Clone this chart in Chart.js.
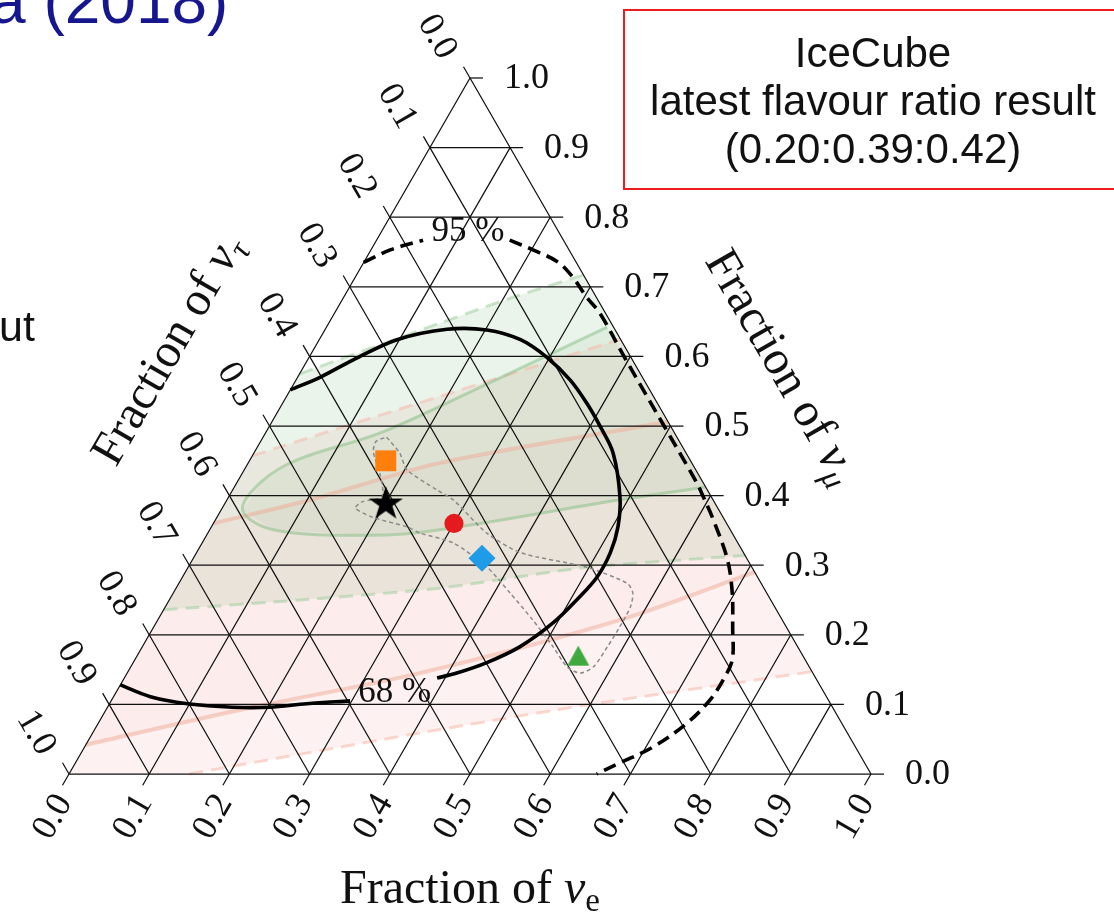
<!DOCTYPE html>
<html>
<head>
<meta charset="utf-8">
<title>Flavour triangle</title>
<script src="https://cdn.jsdelivr.net/npm/chart.js@4.4.1/dist/chart.umd.min.js"></script>
<style>
  html, body { margin: 0; padding: 0; background: #fff; }
  #wrap { position: relative; width: 1114px; height: 918px; overflow: hidden; background: #fff; }
  #c { position: absolute; left: 0; top: 0; width: 1114px; height: 918px; }
  .slide { position: absolute; white-space: nowrap; font-family: "Liberation Sans", Arial, sans-serif; }
  #ref { left: -10px; top: -31px; font-size: 64px; line-height: 64px; color: #16168e; }
  #cut { left: -1px; top: 302px; font-size: 43px; line-height: 48px; color: #111; }
  #box { left: 623px; top: 9px; width: 500px; height: 181px; box-sizing: border-box;
         border: 2px solid #ee1c1c; padding-top: 18px; text-align: center;
         font-size: 42px; line-height: 48px; color: #111; }
</style>
</head>
<body>
<div id="wrap">
  <canvas id="c" width="1114" height="918"></canvas>
  <div class="slide" id="ref">a (2018)</div>
  <div class="slide" id="cut">ut</div>
  <div class="slide" id="box">
    <div>IceCube</div>
    <div>latest flavour ratio result</div>
    <div>(0.20:0.39:0.42)</div>
  </div>
</div>
<script>
// Tick values and labels shared by the three sides of the triangle
const tickValues = [0, 0.1, 0.2, 0.3, 0.4, 0.5, 0.6, 0.7, 0.8, 0.9, 1.0];
const tickLabels = ['0.0', '0.1', '0.2', '0.3', '0.4', '0.5', '0.6', '0.7', '0.8', '0.9', '1.0'];

// All compositions below are [fraction of nu_e, fraction of nu_mu]; nu_tau = 1 - both.

// 95 % contour (dashed), split where its label sits
const cl95Left = [[0.000, 0.735], [0.024, 0.753], [0.058, 0.767]];
const cl95Right = [[0.166, 0.767], [0.202, 0.753], [0.241, 0.736], [0.271, 0.714], [0.303, 0.685],
  [0.331, 0.662], [0.392, 0.600], [0.492, 0.500], [0.572, 0.420], [0.592, 0.398], [0.621, 0.365],
  [0.667, 0.308], [0.697, 0.260], [0.722, 0.211], [0.745, 0.164], [0.748, 0.135], [0.746, 0.106],
  [0.734, 0.073], [0.709, 0.039], [0.679, 0.016], [0.658, 0.000]];

// 68 % contour (solid), split where its label sits
const cl68Upper = [[0.000, 0.552], [0.028, 0.570], [0.057, 0.595], [0.097, 0.624], [0.152, 0.639],
  [0.202, 0.638], [0.251, 0.624], [0.296, 0.599], [0.342, 0.566], [0.379, 0.533], [0.413, 0.499],
  [0.448, 0.461], [0.488, 0.398], [0.507, 0.355], [0.516, 0.318], [0.517, 0.283], [0.508, 0.250],
  [0.495, 0.217], [0.471, 0.183], [0.441, 0.160], [0.411, 0.145], [0.390, 0.138]];
const cl68Lower = [[0.298, 0.105], [0.246, 0.101], [0.202, 0.096], [0.156, 0.096], [0.097, 0.101],
  [0.046, 0.111], [0.000, 0.128]];

const label95 = [0.108, 0.779];
const label68 = [0.348, 0.116];

// Green band (outer dashed limits, inner solid ellipse)
const greenUpper = [[0.000, 0.575], [0.139, 0.648], [0.211, 0.685], [0.283, 0.717]];
const greenLower = [[0.000, 0.236], [0.163, 0.250], [0.329, 0.267], [0.497, 0.297], [0.686, 0.314]];
const greenCoreUpper = [[0.027, 0.379], [0.030, 0.420], [0.060, 0.452], [0.143, 0.490], [0.235, 0.556], [0.350, 0.642]];
const greenCoreLower = [[0.027, 0.379], [0.079, 0.351], [0.207, 0.343], [0.287, 0.351], [0.490, 0.394], [0.587, 0.412]];

// Pink band (outer dashed limits, inner solid limits)
const pinkUpper = [[0.000, 0.457], [0.028, 0.470], [0.266, 0.576], [0.375, 0.625]];
const pinkLower = [[0.150, 0.000], [0.408, 0.059], [0.600, 0.100], [0.853, 0.147]];
const pinkCoreUpper = [[0.000, 0.360], [0.104, 0.394], [0.239, 0.447], [0.494, 0.506]];
const pinkCoreLower = [[0.000, 0.042], [0.167, 0.092], [0.365, 0.145], [0.576, 0.221], [0.710, 0.290]];

// Dotted region around the source points
const dottedRegion = [[0.154, 0.484], [0.182, 0.461], [0.203, 0.437], [0.255, 0.408], [0.282, 0.394],
  [0.348, 0.346], [0.404, 0.318], [0.497, 0.297], [0.559, 0.274], [0.573, 0.260], [0.580, 0.240],
  [0.581, 0.211], [0.580, 0.183], [0.577, 0.154], [0.565, 0.145], [0.544, 0.154], [0.512, 0.183],
  [0.468, 0.221], [0.420, 0.260], [0.373, 0.297], [0.313, 0.332], [0.265, 0.346], [0.244, 0.355],
  [0.194, 0.369], [0.166, 0.382], [0.170, 0.391], [0.191, 0.399], [0.173, 0.430], [0.148, 0.463],
  [0.144, 0.478], [0.154, 0.484]];

// Flavour compositions at Earth for the source benchmarks
const pointSquare = [0.17, 0.45];
const pointStar = [0.20, 0.39];
const pointCircle = [0.30, 0.36];
const pointDiamond = [0.36, 0.31];
const pointTriangle = [0.55, 0.17];

// ---------------------------------------------------------------------------
// Cartesian placement of a composition inside the equilateral triangle
function tern(e, mu) { return { x: e + mu / 2, y: mu }; }
function pts(list) { return list.map(p => tern(p[0], p[1])); }

// Triangle frame on the canvas (pixels)
const FRAME = { left: 69, bottom: 774, width: 802, height: 696, cw: 1114, ch: 918 };
const X_MIN = -FRAME.left / FRAME.width;
const X_MAX = (FRAME.cw - FRAME.left) / FRAME.width;
const Y_MAX = FRAME.bottom / FRAME.height;
const Y_MIN = -(FRAME.ch - FRAME.bottom) / FRAME.height;

const datasets = [];
function addLine(list, style) {
  datasets.push(Object.assign({
    type: 'line', data: list, showLine: true, pointRadius: 0, fill: false,
    tension: 0, borderWidth: 1, borderColor: '#000', backgroundColor: 'rgba(0,0,0,0)'
  }, style));
}
function addFill(list, color) {
  addLine(list, { fill: 'shape', backgroundColor: color, borderColor: 'rgba(0,0,0,0)', borderWidth: 1, tension: 0 });
}

// Faint shaded regions
addFill(pts([...pinkUpper, ...pinkLower.slice().reverse(), [0, 0]]), 'rgba(240,150,140,0.12)');
addFill(pts([...greenUpper, ...greenLower.slice().reverse()]), 'rgba(100,170,100,0.13)');
addFill(pts([...pinkCoreUpper, ...pinkCoreLower.slice().reverse()]), 'rgba(240,150,140,0.06)');
addFill(pts([...greenCoreUpper, ...greenCoreLower.slice().reverse()]), 'rgba(100,170,100,0.09)');

// Faint region outlines
const pinkDash = { borderColor: 'rgba(245,185,172,0.55)', borderWidth: 3, borderDash: [14, 8], tension: 0.2 };
const greenDash = { borderColor: 'rgba(160,205,160,0.55)', borderWidth: 3, borderDash: [14, 8], tension: 0.2 };
addLine(pts(pinkUpper), pinkDash);
addLine(pts(pinkLower), pinkDash);
addLine(pts(greenUpper), greenDash);
addLine(pts(greenLower), greenDash);
addLine(pts(pinkCoreUpper), { borderColor: 'rgba(240,170,150,0.5)', borderWidth: 4, tension: 0.3 });
addLine(pts(pinkCoreLower), { borderColor: 'rgba(240,170,150,0.5)', borderWidth: 4, tension: 0.3 });
addLine(pts([...greenCoreUpper.slice().reverse(), ...greenCoreLower.slice(1)]),
  { borderColor: 'rgba(120,185,120,0.45)', borderWidth: 3, tension: 0.35 });

// Grid lines with their ticks beyond the sides
const TICK = 13;
const tX = TICK / FRAME.width, tY = TICK * Math.sqrt(3) / 2 / FRAME.height, tXh = TICK / 2 / FRAME.width;
const gridStyle = { borderColor: '#111', borderWidth: 1.25 };
tickValues.forEach(v => {
  // constant nu_mu: horizontal, tick to the right
  const a = tern(0, v), b = tern(1 - v, v);
  addLine([a, b, { x: b.x + tX, y: b.y }], gridStyle);
  // constant nu_e: parallel to the left side, tick below-left
  const c = tern(v, 1 - v), d = tern(v, 0);
  addLine([c, d, { x: d.x - tXh, y: d.y - tY }], gridStyle);
  // constant nu_tau: parallel to the right side, tick above-left
  const f = tern(1 - v, 0), g = tern(0, 1 - v);
  addLine([f, g, { x: g.x - tXh, y: g.y + tY }], gridStyle);
});

// Dotted region
addLine(pts(dottedRegion), { borderColor: '#8a8a8a', borderWidth: 1.5, borderDash: [4, 3], tension: 0.25 });

// Confidence contours
const dash95 = { borderColor: '#000', borderWidth: 3.6, borderDash: [13, 7], tension: 0.35 };
addLine(pts(cl95Left), dash95);
addLine(pts(cl95Right), dash95);
addLine(pts(cl68Upper), { borderColor: '#000', borderWidth: 3.6, tension: 0.35 });
addLine(pts(cl68Lower), { borderColor: '#000', borderWidth: 3.6, tension: 0.35 });

// Markers
function starImage(size, color) {
  const cv = document.createElement('canvas');
  cv.width = size; cv.height = size;
  const g = cv.getContext('2d');
  const R = size / 2 - 1, r = R * 0.382, c = size / 2;
  g.beginPath();
  for (let i = 0; i < 10; i++) {
    const rad = (i % 2 === 0) ? R : r;
    const ang = -Math.PI / 2 + i * Math.PI / 5;
    g.lineTo(c + rad * Math.cos(ang), c + 1.5 + rad * Math.sin(ang));
  }
  g.closePath(); g.fillStyle = color; g.fill();
  return cv;
}
function triangleImage(size, color) {
  const cv = document.createElement('canvas');
  cv.width = size; cv.height = size;
  const g = cv.getContext('2d');
  const w = size - 2, h = w * 0.9;
  g.beginPath();
  g.moveTo(size / 2, (size - h) / 2);
  g.lineTo(size / 2 + w / 2, (size + h) / 2);
  g.lineTo(size / 2 - w / 2, (size + h) / 2);
  g.closePath(); g.fillStyle = color; g.fill();
  return cv;
}
function addMarker(p, style) {
  datasets.push(Object.assign({
    type: 'line', data: [tern(p[0], p[1])], showLine: false, borderWidth: 0,
    pointBorderWidth: 0, pointBorderColor: 'rgba(0,0,0,0)'
  }, style));
}
addMarker(pointSquare, { pointStyle: 'rect', pointRadius: 14.8, pointBackgroundColor: '#ff7f0e' });
addMarker(pointCircle, { pointStyle: 'circle', pointRadius: 9.6, pointBackgroundColor: '#e41a1c' });
addMarker(pointDiamond, { pointStyle: 'rectRot', pointRadius: 13.5, pointBackgroundColor: '#1f9ce8' });
addMarker(pointTriangle, { pointStyle: triangleImage(24, '#3fa83f'), pointRadius: 10 });
addMarker(pointStar, { pointStyle: starImage(38, '#000'), pointRadius: 10 });

// Later datasets are drawn on top
datasets.forEach((d, i) => { d.order = datasets.length - i; });

// Text: tick labels, axis titles, contour labels
function rotText(ctx, t, cx, cy, a) {
  ctx.save(); ctx.translate(cx, cy); ctx.rotate(a);
  ctx.textAlign = 'center'; ctx.textBaseline = 'middle';
  ctx.fillText(t, 0, 0); ctx.restore();
}
function richText(ctx, runs, cx, cy, a) {
  let w = 0;
  runs.forEach(r => { ctx.font = r[1]; w += ctx.measureText(r[0]).width; });
  ctx.save(); ctx.translate(cx, cy); ctx.rotate(a);
  ctx.textAlign = 'left'; ctx.textBaseline = 'alphabetic';
  let x = -w / 2;
  runs.forEach(r => { ctx.font = r[1]; ctx.fillText(r[0], x, r[2]); x += ctx.measureText(r[0]).width; });
  ctx.restore();
}
const SERIF = '"Liberation Serif", "Times New Roman", serif';
const titleRuns = sub => [
  ['Fraction of ', '48px ' + SERIF, 16],
  ['\u03BD', 'italic 48px ' + SERIF, 16],
  [sub[0], sub[1] + ' 33px ' + SERIF, 24]
];

const ternaryText = {
  id: 'ternaryText',
  afterDraw(chart) {
    const ctx = chart.ctx, xs = chart.scales.x, ys = chart.scales.y;
    const P = (e, mu) => { const c = tern(e, mu); return [xs.getPixelForValue(c.x), ys.getPixelForValue(c.y)]; };
    ctx.save();
    ctx.fillStyle = '#111';
    ctx.font = '36px ' + SERIF;
    tickValues.forEach((v, i) => {
      let [px, py] = P(1 - v, v);
      ctx.textAlign = 'left'; ctx.textBaseline = 'middle';
      ctx.fillText(tickLabels[i], px + 34, py + 1);
      [px, py] = P(v, 0);
      rotText(ctx, tickLabels[i], px - 16, py + 43, -Math.PI / 3);
      [px, py] = P(0, 1 - v);
      rotText(ctx, tickLabels[i], px - 33, py - 41, Math.PI / 3);
    });
    ctx.font = '35px ' + SERIF;
    let [lx, ly] = P(label95[0], label95[1]);
    rotText(ctx, '95 %', lx, ly, 0);
    [lx, ly] = P(label68[0], label68[1]);
    rotText(ctx, '68 %', lx, ly, 0);

    const [bx] = P(0.5, 0);
    richText(ctx, titleRuns(['e', 'normal']), bx, 887, 0);
    const [ex, ey] = P(0, 0.5);
    richText(ctx, titleRuns(['\u03C4', 'italic']), ex - 103, ey - 77, -Math.PI / 3);
    const [mx, my] = P(0.5, 0.5);
    richText(ctx, titleRuns(['\u03BC', 'italic']), mx + 113, my - 60, Math.PI / 3);
    ctx.restore();
  }
};

new Chart(document.getElementById('c'), {
  type: 'line',
  data: { datasets },
  options: {
    responsive: false,
    animation: false,
    devicePixelRatio: 1,
    events: [],
    layout: { padding: 0, autoPadding: false },
    plugins: { legend: { display: false }, tooltip: { enabled: false }, title: { display: false } },
    scales: {
      x: { type: 'linear', min: X_MIN, max: X_MAX, display: false },
      y: { type: 'linear', min: Y_MIN, max: Y_MAX, display: false }
    }
  },
  plugins: [ternaryText]
});
</script>
</body>
</html>
